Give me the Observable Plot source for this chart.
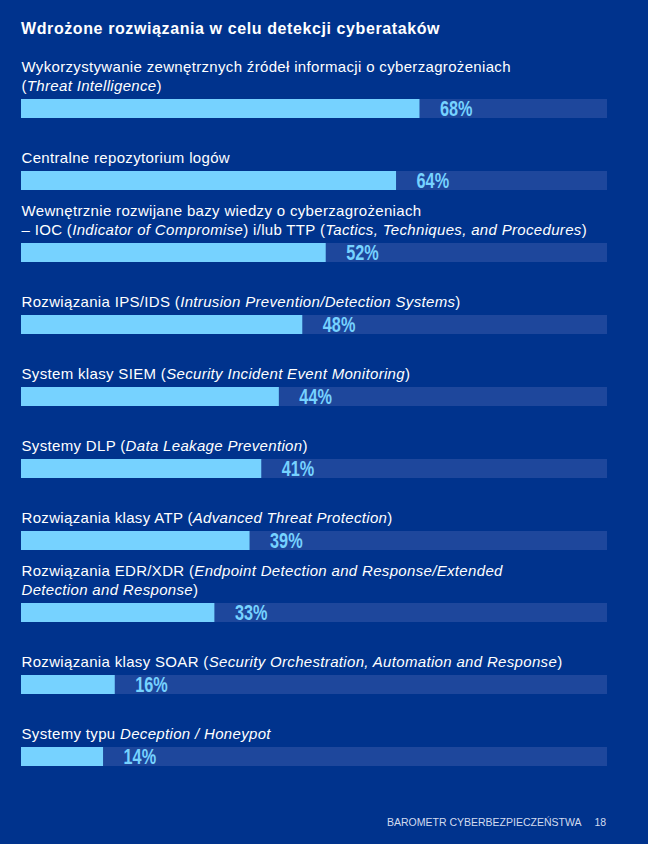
<!DOCTYPE html>
<html><head><meta charset="utf-8">
<script src="https://cdn.jsdelivr.net/npm/d3@7"></script>
<script src="https://cdn.jsdelivr.net/npm/@observablehq/plot@0.6"></script>
<style>
html,body{margin:0;padding:0;background:#00338D;}
#wrap{position:relative;width:648px;height:844px;background:#00338D;font-family:"Liberation Sans",Arial,sans-serif;color:#fff;overflow:hidden}
#title{position:absolute;left:21px;top:20px;font-size:16px;font-weight:bold;line-height:18px;white-space:nowrap;letter-spacing:0.6px}
#chart{position:absolute;left:0;top:44px;}
#footer{position:absolute;left:387px;top:816px;font-size:10.5px;line-height:12px;color:#d2dbef;white-space:nowrap}
#footer span{margin-left:13px}
</style></head>
<body>
<div id="wrap">
  <div id="title">Wdrożone rozwiązania w celu detekcji cyberataków</div>
  <div id="chart"></div>
  <div id="footer">BAROMETR CYBERBEZPIECZEŃSTWA<span>18</span></div>
</div>
<script>
const labels = [
  "Wykorzystywanie zewnętrznych źródeł informacji o cyberzagrożeniach\n(*Threat Intelligence*)",
  "Centralne repozytorium logów",
  "Wewnętrznie rozwijane bazy wiedzy o cyberzagrożeniach\n– IOC (*Indicator of Compromise*) i/lub TTP (*Tactics, Techniques, and Procedures*)",
  "Rozwiązania IPS/IDS (*Intrusion Prevention/Detection Systems*)",
  "System klasy SIEM (*Security Incident Event Monitoring*)",
  "Systemy DLP (*Data Leakage Prevention*)",
  "Rozwiązania klasy ATP (*Advanced Threat Protection*)",
  "Rozwiązania EDR/XDR (*Endpoint Detection and Response/Extended\nDetection and Response*)",
  "Rozwiązania klasy SOAR (*Security Orchestration, Automation and Response*)",
  "Systemy typu *Deception / Honeypot*"
];
const values = [68, 64, 52, 48, 44, 41, 39, 33, 16, 14];
const fullScale = 100;

const data = labels.map((label, i) => ({label, value: values[i], full: fullScale}));

const colBar = "#76D2FF";
const colTrack = "#1E479C";

const plot = Plot.plot({
  width: 648,
  height: 761,
  marginLeft: 21,
  marginRight: 41,
  marginTop: 55,
  marginBottom: 37,
  style: {background: "transparent", fontFamily: "'Liberation Sans', Arial, sans-serif", overflow: "visible"},
  x: {domain: [0, fullScale], axis: null},
  y: {domain: labels, axis: null, paddingInner: 0.737, paddingOuter: 0, align: 0},
  marks: [
    Plot.barX(data, {x1: 0, x2: "full", y: "label", fill: colTrack}),
    Plot.barX(data, {x1: 0, x2: "value", y: "label", fill: colBar}),
    Plot.text(data, {
      x: "value", y: "label", text: d => d.value + "%",
      textAnchor: "start", dx: 20, fill: colBar,
      fontSize: 22, fontWeight: "bold",
      fontFamily: "'Liberation Sans', Arial, sans-serif"
    }),
    Plot.text(data, {
      y: "label", text: "label", frameAnchor: "left", textAnchor: "start",
      lineAnchor: "bottom", lineHeight: 1.22, dy: -18.5,
      fill: "#ffffff", fontSize: 15
    })
  ]
});

const textGroups = plot.querySelectorAll('g[aria-label="text"]');
// condensed look for the percentage labels
textGroups[0].querySelectorAll("text").forEach(t => {
  const tr = t.getAttribute("transform") || "";
  t.setAttribute("transform", tr + " scale(0.74,1)");
});
// convert *...* markup into italic tspans (state carries across lines)
textGroups[1].querySelectorAll("text").forEach(t => {
  t.setAttribute("letter-spacing", "0.33");
  let italic = false;
  const tspans = t.querySelectorAll("tspan");
  const nodes = tspans.length ? Array.from(tspans) : [t];
  nodes.forEach(n => {
    const s = n.textContent;
    n.textContent = "";
    const parts = s.split("*");
    parts.forEach((p, k) => {
      if (k > 0) italic = !italic;
      if (!p) return;
      const ts = document.createElementNS("http://www.w3.org/2000/svg", "tspan");
      if (italic) ts.setAttribute("font-style", "italic");
      ts.textContent = p;
      n.appendChild(ts);
    });
  });
});

document.getElementById("chart").appendChild(plot);
</script>
</body></html>
